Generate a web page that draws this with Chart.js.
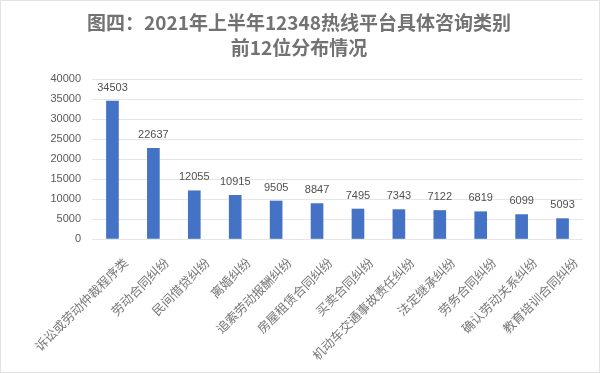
<!DOCTYPE html>
<html><head><meta charset="utf-8">
<script src="https://cdn.jsdelivr.net/npm/chart.js@4"></script>
<style>html,body{margin:0;padding:0;background:#fff;}canvas{display:block;}</style>
</head><body>
<canvas id="c" width="600" height="373"></canvas>
<script>
const titleLines = ["图四：2021年上半年12348热线平台具体咨询类别", "前12位分布情况"];
const categories = ["诉讼或劳动仲裁程序类","劳动合同纠纷","民间借贷纠纷","离婚纠纷","追索劳动报酬纠纷","房屋租赁合同纠纷","买卖合同纠纷","机动车交通事故责任纠纷","法定继承纠纷","劳务合同纠纷","确认劳动关系纠纷","教育培训合同纠纷"];
const values = [34503,22637,12055,10915,9505,8847,7495,7343,7122,6819,6099,5093];
const yTicks = [0,5000,10000,15000,20000,25000,30000,35000,40000];

const bgPlugin = {
  id:'bg',
  beforeDraw(chart){
    const c=chart.ctx; c.save(); c.fillStyle='#fff'; c.fillRect(0,0,chart.width,chart.height);
    c.strokeStyle='#e3e3e3'; c.lineWidth=1; c.strokeRect(0.5,0.5,chart.width-1,chart.height-1);
    c.fillStyle='#727272'; c.textAlign='center'; c.textBaseline='middle';
    c.font='bold 19px "Noto Sans CJK SC", sans-serif';
    c.fillText(titleLines[0], 299, 23);
    c.fillText(titleLines[1], 299, 48);
    c.restore();
  }
};
const labelPlugin = {
  id:'vals',
  afterDatasetsDraw(chart){
    const c=chart.ctx; const meta=chart.getDatasetMeta(0);
    c.save(); c.font='11px "Liberation Sans", Arial, sans-serif'; c.fillStyle='#505050';
    c.textAlign='center'; c.textBaseline='bottom';
    meta.data.forEach((bar,i)=>{ c.fillText(String(values[i]), bar.x, bar.y-8); });
    c.restore();
  }
};
new Chart(document.getElementById('c'),{
  type:'bar',
  data:{labels:categories,datasets:[{data:values,backgroundColor:'#4472C4',barThickness:12}]},
  options:{
    responsive:false,animation:false,
    layout:{padding:{left:0,right:17,top:79,bottom:9}},
    plugins:{legend:{display:false},tooltip:{enabled:false},title:{display:false}},
    scales:{
      x:{grid:{display:false},border:{display:false},
        ticks:{color:'#767676',minRotation:45,maxRotation:45,autoSkip:false,padding:8,labelOffset:13,
          font:{family:'"Noto Sans CJK SC", sans-serif',size:12.5}},
        afterFit(s){s.height=125;}},
      y:{min:0,max:40000,afterBuildTicks(s){s.ticks=yTicks.map(v=>({value:v}));},
        grid:{color:'#e6e6e6',drawTicks:false},border:{display:false},
        ticks:{color:'#595959',padding:11,callback:v=>String(v),
          font:{family:'"Liberation Sans", Arial, sans-serif',size:11}},
        afterFit(s){s.width=92;}}
    }
  },
  plugins:[bgPlugin,labelPlugin]
});
</script>
</body></html>
